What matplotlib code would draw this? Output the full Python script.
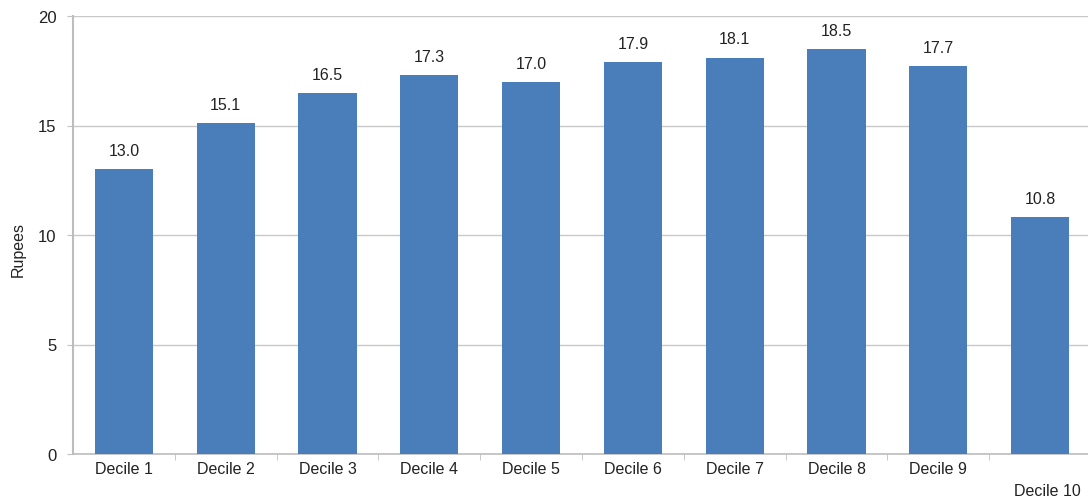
import numpy as np
import matplotlib.pyplot as plt

plt.rcParams['font.family'] = ['Liberation Sans', 'DejaVu Sans']

deciles = ['Decile 1', 'Decile 2', 'Decile 3', 'Decile 4', 'Decile 5',
           'Decile 6', 'Decile 7', 'Decile 8', 'Decile 9', 'Decile 10']
rupees = [13.0, 15.1, 16.5, 17.3, 17.0, 17.9, 18.1, 18.5, 17.7, 10.8]

W, H = 1088, 502
fig = plt.figure(figsize=(W / 100, H / 100), dpi=100)
ax = fig.add_axes([73 / W, 1 - 455 / H, (W - 73) / W, (455 - 17) / H])

x = np.arange(len(deciles))
bars = ax.bar(x, rupees, width=0.57, color='#4a7ebb', zorder=3)

for xi, v in zip(x, rupees):
    ax.annotate(f'{v:.1f}', (xi, v), xytext=(0, 8), textcoords='offset points',
                ha='center', va='bottom', fontsize=11.5, color='#222222')

ax.set_xlim(-0.5, 9.5 - 3 / 101.8)
ax.set_ylim(0, 20)
ax.set_yticks([0, 5, 10, 15, 20])
ax.yaxis.grid(True, color='#c8c8c8', linewidth=1, zorder=0)

# last category label is placed separately, one row lower
ax.set_xticks(x)
ax.set_xticklabels(deciles[:-1] + [''])
ax.annotate(deciles[-1], (x[-1], 0), xytext=(5, -26.5), textcoords='offset points',
            ha='center', va='center', fontsize=11.5, color='#222222',
            annotation_clip=False)
ax.set_xticks(x[:-1] + 0.5, minor=True)
ax.tick_params(axis='x', which='major', length=0, pad=5, labelsize=11.5, labelcolor='#222222')
ax.tick_params(axis='x', which='minor', length=4, color='#c0c0c0', direction='out')
ax.tick_params(axis='y', length=4, color='#c0c0c0', labelsize=12, labelcolor='#222222', pad=8)

for s in ['top', 'right']:
    ax.spines[s].set_visible(False)
ax.spines['left'].set_color('#bdbdbd')
ax.spines['left'].set_linewidth(1.5)
ax.spines['bottom'].set_color('#bdbdbd')
ax.spines['bottom'].set_linewidth(1.2)

ax.set_ylabel('Rupees', fontsize=11.5, color='#222222')
ax.yaxis.set_label_coords(-47 / (W - 73), 0.47)

fig.savefig('out.png', dpi=100)
